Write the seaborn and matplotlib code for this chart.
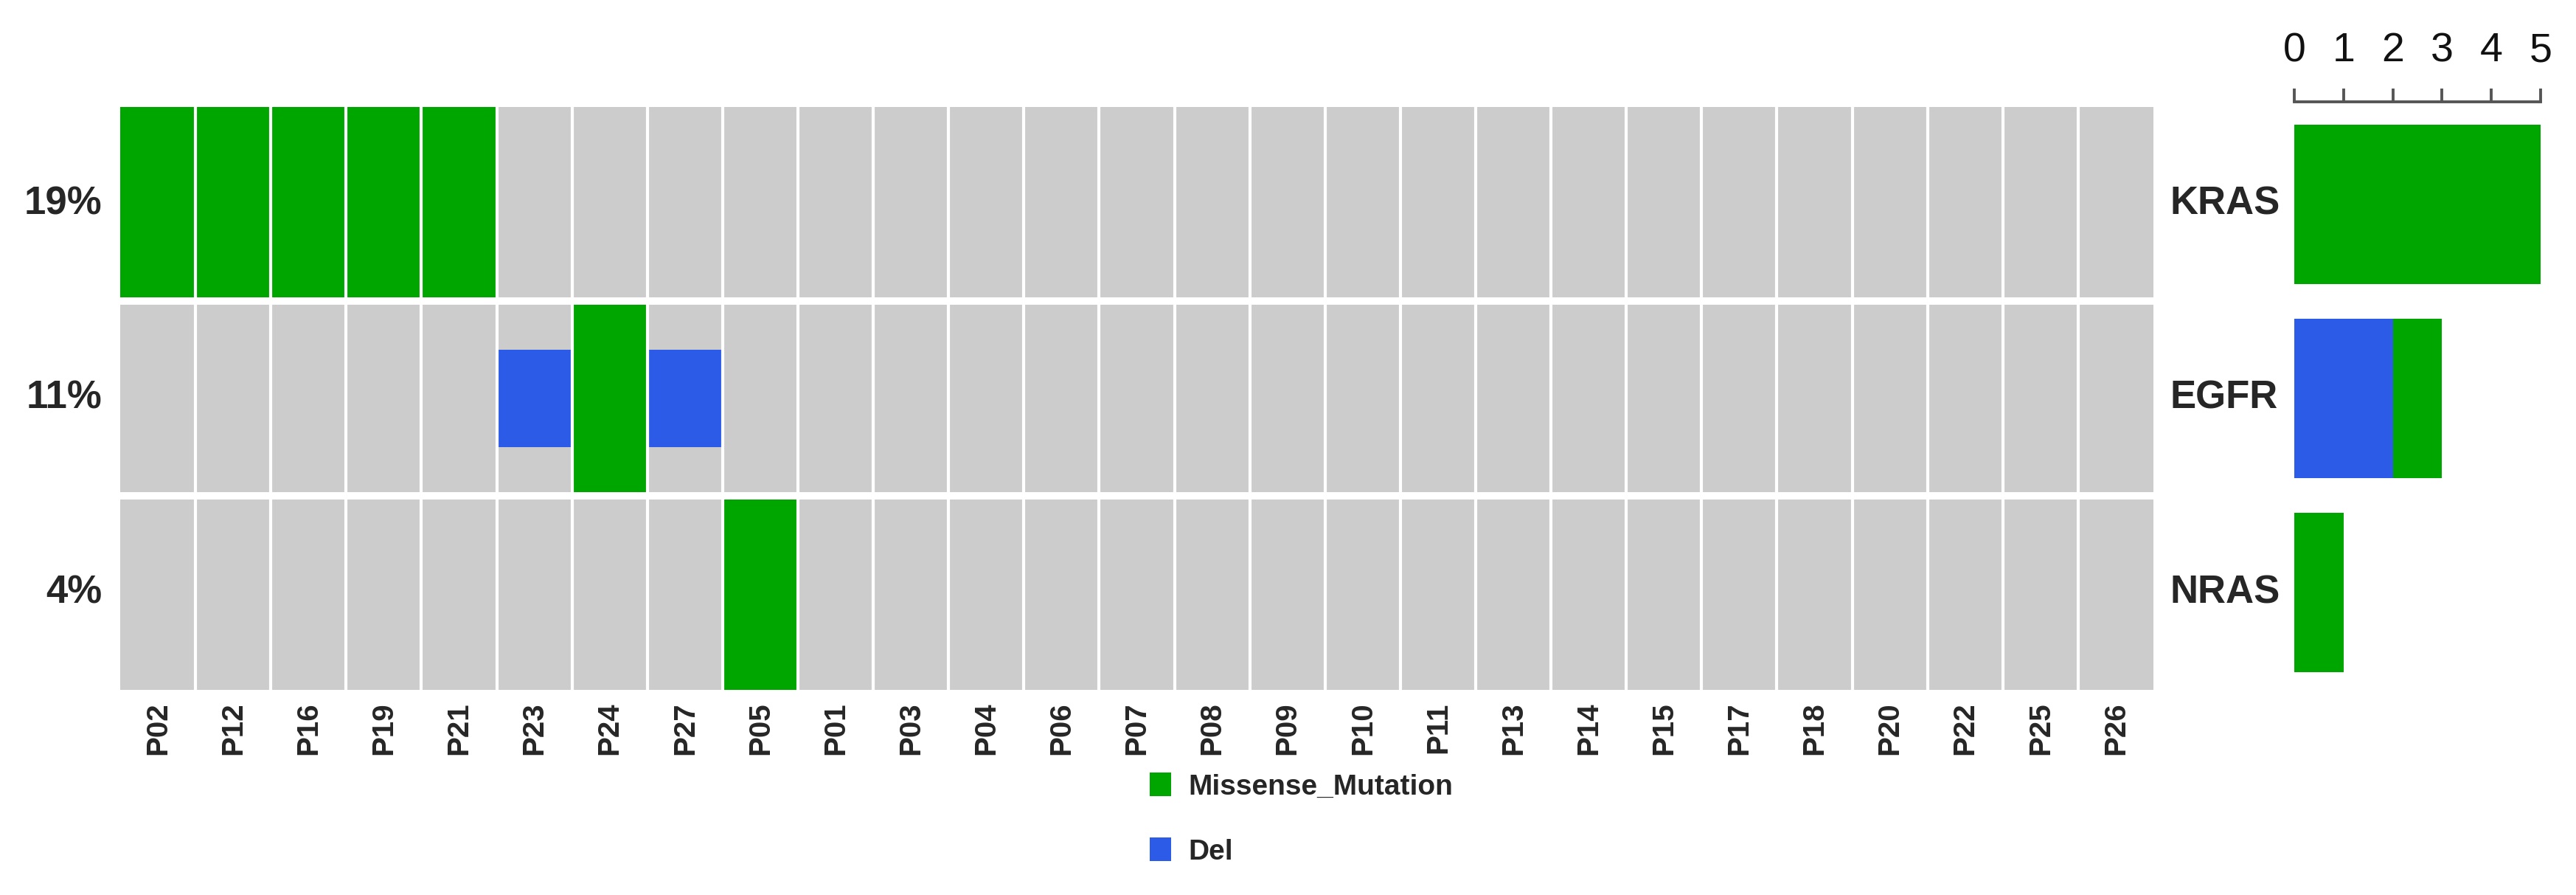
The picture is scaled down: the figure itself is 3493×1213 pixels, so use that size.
import numpy as np
import pandas as pd
import matplotlib
matplotlib.use('Agg')
import matplotlib.pyplot as plt
from matplotlib.colors import ListedColormap
from matplotlib.patches import Patch
import seaborn as sns

### sample order along the x axis (sorted by mutation, as in the oncoplot)
samples = ['P02', 'P12', 'P16', 'P19', 'P21', 'P23', 'P24', 'P27', 'P05',
           'P01', 'P03', 'P04', 'P06', 'P07', 'P08', 'P09', 'P10', 'P11',
           'P13', 'P14', 'P15', 'P17', 'P18', 'P20', 'P22', 'P25', 'P26']
genes = ['KRAS', 'EGFR', 'NRAS']

### one entry per mutation call
mut_gene = ['KRAS', 'KRAS', 'KRAS', 'KRAS', 'KRAS', 'EGFR', 'EGFR', 'EGFR', 'NRAS']
mut_sample = ['P02', 'P12', 'P16', 'P19', 'P21', 'P23', 'P24', 'P27', 'P05']
mut_type = ['Missense_Mutation', 'Missense_Mutation', 'Missense_Mutation',
            'Missense_Mutation', 'Missense_Mutation', 'Del', 'Missense_Mutation',
            'Del', 'Missense_Mutation']
type_order = ['Missense_Mutation', 'Del']
count_ticks = [0, 1, 2, 3, 4, 5]

### colours
gray = '#cccccc'
green = '#00a600'
blue = '#2c5be8'

muts = pd.DataFrame({'gene': mut_gene, 'sample': mut_sample, 'type': mut_type})

### matrix of missense calls (1) for the tile background
miss = muts[muts['type'] == 'Missense_Mutation'].assign(v=1)
miss_mat = (miss.pivot_table(index='gene', columns='sample', values='v', fill_value=0)
            .reindex(index=genes, columns=samples, fill_value=0))

### percent of samples mutated per gene
pct = (muts.groupby('gene')['sample'].nunique().reindex(genes) / len(samples) * 100).round().astype(int)

### counts per gene per type for the side bars
counts = pd.crosstab(muts['gene'], muts['type']).reindex(index=genes, columns=type_order, fill_value=0)

sns.set_style('white')
plt.rcParams['font.family'] = ['Liberation Sans', 'DejaVu Sans']

W, H = 3493, 1213
fig = plt.figure(figsize=(W / 200, H / 200), dpi=200)

ax = fig.add_axes([163 / W, 1 - 935 / H, 2757 / W, 790 / H])
axb = fig.add_axes([3111 / W, 1 - 935 / H, 334 / W, 790 / H])

### main tile grid
sns.heatmap(miss_mat, cmap=ListedColormap([gray, green]), vmin=0, vmax=1,
            cbar=False, ax=ax)

### deletions drawn as half-height tiles
dels = muts[muts['type'] == 'Del']
for _, r in dels.iterrows():
    xi = samples.index(r['sample'])
    yi = genes.index(r['gene'])
    ax.bar(xi + 0.5, 0.5, width=1.0, bottom=yi + 0.25, color=blue, linewidth=0, zorder=2)

### white separators
ax.vlines(np.arange(1, len(samples)), 0, len(genes), color='white', lw=1.5, zorder=3)
ax.hlines(np.arange(1, len(genes)), 0, len(samples), color='white', lw=3.6, zorder=3)

ax.set_xlabel('')
ax.set_ylabel('')
ax.set_xticks(np.arange(len(samples)) + 0.5)
ax.set_xticklabels(samples, rotation=90, fontsize=14.5, fontweight='bold')
ax.set_yticks(np.arange(len(genes)) + 0.5)
ax.set_yticklabels([str(p) + '%' for p in pct], fontsize=19, fontweight='bold', rotation=0)
ax.tick_params(axis='x', length=0, pad=6)
ax.tick_params(axis='y', length=0, pad=9)
for s in ax.spines.values():
    s.set_visible(False)

### gene names on the right of the grid
for i, g in enumerate(genes):
    ax.text(1.008, i + 0.5, g, transform=ax.get_yaxis_transform(),
            ha='left', va='center', fontsize=19, fontweight='bold')

### side bar chart: total (green) with deletions stacked from zero (blue)
totals = counts.sum(axis=1)
sns.barplot(x=totals.values, y=genes, order=genes, color=green, saturation=1,
            width=0.82, linewidth=0, ax=axb)
sns.barplot(x=counts['Del'].values, y=genes, order=genes, color=blue, saturation=1,
            width=0.82, linewidth=0, ax=axb)
axb.set_xlim(0, 5)
axb.set_ylim(len(genes) - 0.5, -0.5)
axb.set_xlabel('')
axb.set_ylabel('')
axb.set_yticks([])
axb.xaxis.tick_top()
axb.set_xticks(count_ticks)
axb.set_xticklabels([str(t) for t in count_ticks])
axb.tick_params(axis='x', direction='out', length=6.5, width=1.4, color='#555555',
                pad=9, labelsize=20, labelcolor='#111111')
for lab in axb.get_xticklabels():
    lab.set_fontfamily('Open Sans')
for k in ['left', 'right', 'bottom']:
    axb.spines[k].set_visible(False)
axb.spines['top'].set_position(('outward', 2.5))
axb.spines['top'].set_color('#555555')
axb.spines['top'].set_linewidth(1.4)

### legend
handles = [Patch(facecolor=green, edgecolor='none'), Patch(facecolor=blue, edgecolor='none')]
fig.legend(handles, type_order, loc='upper left', bbox_to_anchor=(1559 / W, 1 - 1047 / H),
           frameon=False, borderpad=0, borderaxespad=0, handlelength=0.75, handleheight=0.9,
           handletextpad=0.6, labelspacing=1.3, prop={'size': 14, 'weight': 'bold'})

plt.savefig('out.png', dpi=200)
